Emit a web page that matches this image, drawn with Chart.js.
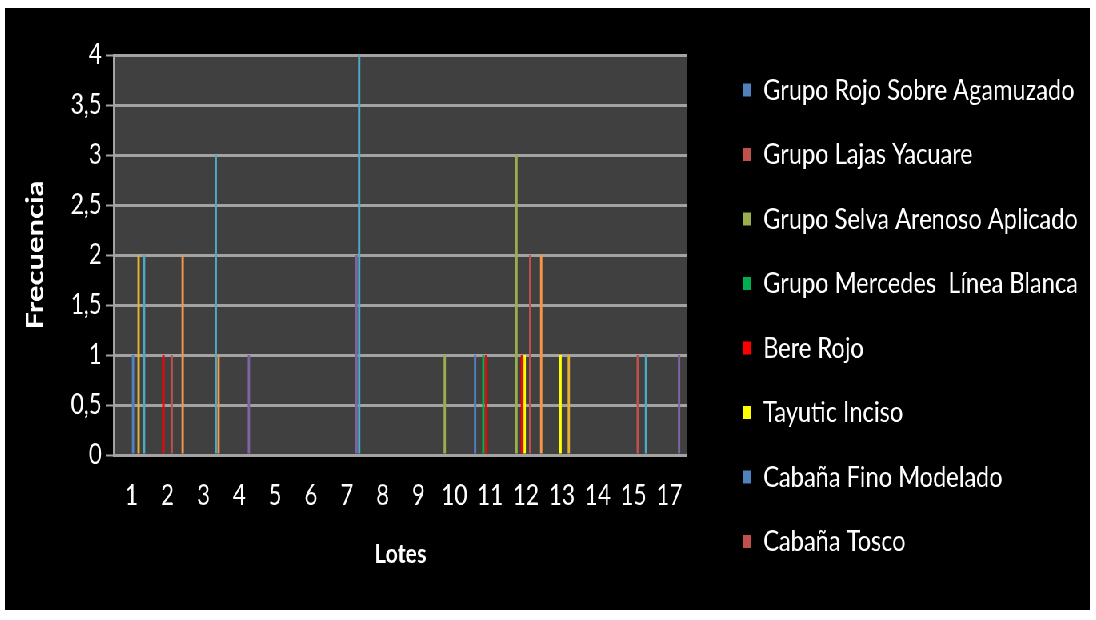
<!DOCTYPE html>
<html lang="es">
<head>
<meta charset="utf-8">
<title>Frecuencia por lotes</title>
<script src="https://cdn.jsdelivr.net/npm/chart.js@4/dist/chart.umd.min.js"></script>
<style>
  html, body { margin: 0; padding: 0; background: #ffffff; overflow: hidden; }
  /* The chart is laid out on a wider canvas and narrowed horizontally,
     which gives the lettering its condensed look. */
  #frame {
    position: absolute; left: 5px; top: 8px;
    width: 1356px; height: 602px;
    background: #000000;
    transform: scaleX(0.8); transform-origin: 0 0;
  }
</style>
</head>
<body>
<div id="frame"><canvas id="chart"></canvas></div>
<script>
// Lotes (categorías del eje X)
const lotes = ['1', '2', '3', '4', '5', '6', '7', '8', '9', '10', '11', '12', '13', '14', '15', '17'];
// Etiquetas del eje Y
const yTickLabels = ['0', '0,5', '1', '1,5', '2', '2,5', '3', '3,5', '4'];

// Frecuencia de cada tipo cerámico por lote
const grupoRojoSobreAgamuzado   = [0, 0, 0, 0, 0, 0, 0, 0, 0, 0, 1, 0, 0, 0, 0, 0];
const grupoLajasYacuare         = [0, 0, 0, 0, 0, 0, 0, 0, 0, 0, 0, 0, 0, 0, 0, 0];
const grupoSelvaArenosoAplicado = [0, 0, 0, 0, 0, 0, 0, 0, 0, 1, 0, 3, 0, 0, 0, 0];
const grupoMercedesLineaBlanca  = [0, 0, 0, 0, 0, 0, 0, 0, 0, 0, 1, 0, 0, 0, 0, 0];
const bereRojo                  = [0, 1, 0, 0, 0, 0, 0, 0, 0, 0, 1, 1, 0, 0, 0, 0];
const tayuticInciso             = [0, 0, 0, 0, 0, 0, 0, 0, 0, 0, 0, 1, 1, 0, 0, 0];
const cabanaFinoModelado        = [1, 0, 0, 0, 0, 0, 0, 0, 0, 0, 0, 0, 0, 0, 0, 0];
const cabanaTosco               = [0, 1, 0, 0, 0, 0, 0, 0, 0, 0, 0, 2, 0, 0, 1, 0];
const serie9                    = [2, 0, 0, 0, 0, 0, 0, 0, 0, 0, 0, 0, 1, 0, 0, 0];
const serie10                   = [0, 0, 0, 1, 0, 0, 2, 0, 0, 0, 0, 0, 0, 0, 0, 1];
const serie11                   = [2, 0, 3, 0, 0, 0, 4, 0, 0, 0, 0, 0, 0, 0, 1, 0];
const serie12                   = [0, 2, 1, 0, 0, 0, 0, 0, 0, 0, 0, 2, 0, 0, 0, 0];

const series = [
  { label: 'Grupo Rojo Sobre Agamuzado',   data: grupoRojoSobreAgamuzado,   color: '#4F81BD' },
  { label: 'Grupo Lajas Yacuare',          data: grupoLajasYacuare,         color: '#C0504D' },
  { label: 'Grupo Selva Arenoso Aplicado', data: grupoSelvaArenosoAplicado, color: '#9AAE4E' },
  { label: 'Grupo Mercedes  Línea Blanca', data: grupoMercedesLineaBlanca,  color: '#00B050' },
  { label: 'Bere Rojo',                    data: bereRojo,                  color: '#FF0000' },
  { label: 'Tayutic Inciso',               data: tayuticInciso,             color: '#FFFF00' },
  { label: 'Cabaña Fino Modelado',         data: cabanaFinoModelado,        color: '#4F81BD' },
  { label: 'Cabaña Tosco',                 data: cabanaTosco,               color: '#C0504D' },
  { label: 'Serie 9',                      data: serie9,                    color: '#E6B030' },
  { label: 'Serie 10',                     data: serie10,                   color: '#8064A2' },
  { label: 'Serie 11',                     data: serie11,                   color: '#4BACC6' },
  { label: 'Serie 12',                     data: serie12,                   color: '#F79646' }
];

// Layout constants (canvas pixels, before the horizontal narrowing)
const PLOT_TOP = 47;
const Y_AXIS_WIDTH = 136;
const X_AXIS_HEIGHT = 155;
const LEGEND_WIDTH = 503;
const LEGEND_ITEMS_X = 922;
const LEGEND_VISIBLE = 8;

const plotBackground = {
  id: 'plotBackground',
  beforeDraw(chart) {
    const { ctx, chartArea: a } = chart;
    ctx.save();
    ctx.fillStyle = '#404040';
    ctx.fillRect(a.left, a.top, a.right - a.left, a.bottom - a.top);
    ctx.restore();
  }
};

// Fixed legend column: reserves a set width and starts its items at a set x.
const legendPlacement = {
  id: 'legendPlacement',
  afterInit(chart) {
    const lg = chart.legend;
    if (!lg) return;
    const fit = lg.fit.bind(lg);
    lg.fit = function () { fit(); this.width = LEGEND_WIDTH; };
  },
  afterLayout(chart) {
    const lg = chart.legend;
    if (!lg) return;
    const shift = LEGEND_ITEMS_X - (lg.left + lg.options.labels.padding);
    lg.left += shift;
    lg.right += shift;
  }
};

const textColor = '#ffffff';
const gridColor = '#a3a3a3';

new Chart(document.getElementById('chart'), {
  type: 'bar',
  data: {
    labels: lotes,
    datasets: series.map(s => ({
      label: s.label,
      data: s.data,
      backgroundColor: s.color,
      borderWidth: 0,
      categoryPercentage: 0.92,
      barPercentage: 0.85
    }))
  },
  options: {
    responsive: true,
    maintainAspectRatio: false,
    animation: false,
    devicePixelRatio: 1,
    layout: { padding: { top: 13.5, left: 0, right: 0, bottom: 0 } },
    plugins: {
      tooltip: { enabled: false },
      legend: {
        position: 'right',
        align: 'center',
        labels: {
          color: textColor,
          font: { family: 'Lato', size: 29.5 },
          boxWidth: 11,
          boxHeight: 13,
          padding: 35,
          filter: item => item.datasetIndex < LEGEND_VISIBLE
        }
      }
    },
    scales: {
      x: {
        grid: { display: false, drawTicks: false },
        border: { display: false },
        ticks: {
          color: textColor,
          font: { family: 'Lato', size: 28 },
          padding: 24,
          maxRotation: 0,
          autoSkip: false
        },
        title: {
          display: true,
          text: 'Lotes',
          color: textColor,
          font: { family: 'Lato', size: 27, weight: 'bold' },
          padding: { top: 0, bottom: 40 }
        },
        afterFit(scale) { scale.height = X_AXIS_HEIGHT; }
      },
      y: {
        min: 0,
        max: 4,
        ticks: {
          stepSize: 0.5,
          color: textColor,
          font: { family: 'Lato', size: 28 },
          padding: 5,
          callback: (value, index) => yTickLabels[index]
        },
        grid: {
          color: gridColor,
          lineWidth: 3,
          tickLength: 10,
          tickWidth: 2,
          tickColor: gridColor
        },
        border: { display: true, color: gridColor, width: 2 },
        title: {
          display: true,
          text: 'Frecuencia',
          color: textColor,
          font: { family: 'Lato', size: 31, weight: 'bold' },
          padding: { top: 19, bottom: 0 }
        },
        afterFit(scale) {
          scale.width = Y_AXIS_WIDTH;
          scale.paddingTop = PLOT_TOP;
        }
      }
    }
  },
  plugins: [plotBackground, legendPlacement]
});
</script>
</body>
</html>
